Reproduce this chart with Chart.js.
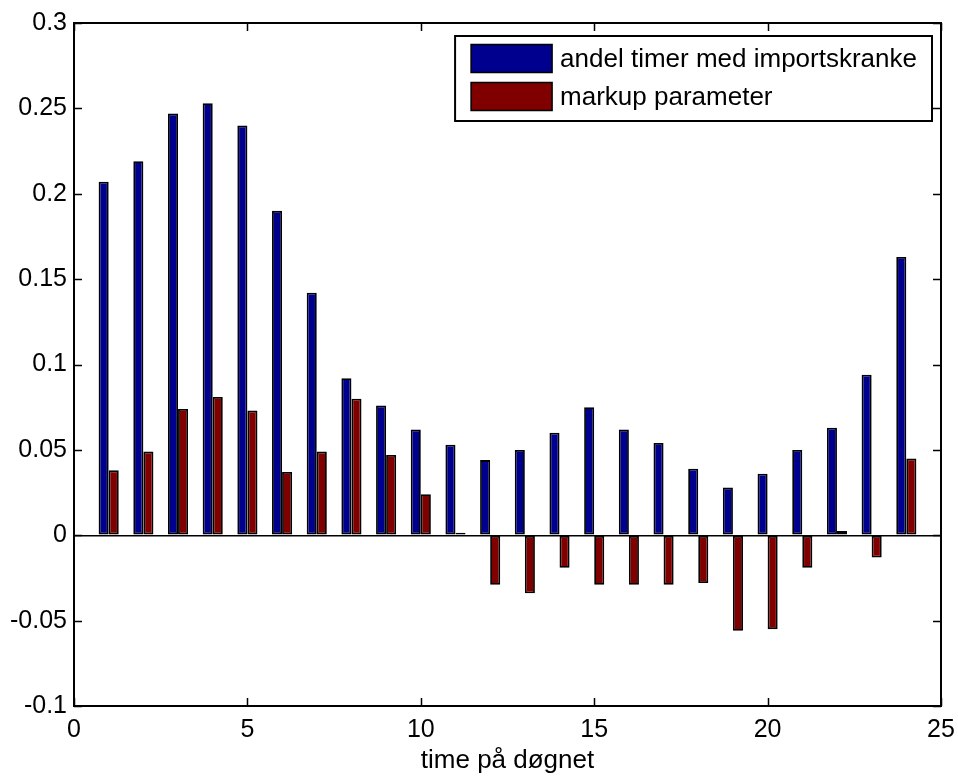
<!DOCTYPE html>
<html>
<head>
<meta charset="utf-8">
<script src="https://cdn.jsdelivr.net/npm/chart.js@4/dist/chart.umd.min.js"></script>
<style>
  html, body { margin: 0; padding: 0; background: #fff; }
  #c { display: block; }
</style>
</head>
<body>
<canvas id="c" width="958" height="777"></canvas>
<script>
// ---- data ----
const hours = [1,2,3,4,5,6,7,8,9,10,11,12,13,14,15,16,17,18,19,20,21,22,23,24];
const andelTimer = [0.207,0.219,0.247,0.253,0.240,0.190,0.142,0.092,0.076,0.062,0.053,0.044,
                    0.050,0.060,0.075,0.062,0.054,0.039,0.028,0.036,0.050,0.063,0.094,0.163];
const markup = [0.038,0.049,0.074,0.081,0.073,0.037,0.049,0.080,0.047,0.024,0.0015,-0.029,
                -0.034,-0.019,-0.029,-0.029,-0.029,-0.028,-0.056,-0.055,-0.019,0.0025,-0.013,0.045];
const seriesLabels = ['andel timer med importskranke', 'markup parameter'];
const xTicks = [0,5,10,15,20,25];
const yTicks = [-0.1,-0.05,0,0.05,0.1,0.15,0.2,0.25,0.3];
const xTitle = 'time på døgnet';

const FONT = '"Liberation Sans", Arial, Helvetica, sans-serif';
const BLUE = '#00008F';
const RED = '#800000';

const fmt = v => { const r = +(+v).toFixed(2); return (r === 0 ? 0 : r).toString(); };

// frame, inward tick marks (all four sides) and legend
const matlabAxes = {
  id: 'matlabAxes',
  afterDatasetsDraw(chart) {
    const {ctx, chartArea: a, scales: {x, y}} = chart;
    ctx.save();
    ctx.strokeStyle = '#000';
    ctx.lineWidth = 1.5;
    const tl = 8;
    ctx.beginPath();
    xTicks.forEach(v => {
      const px = Math.round(x.getPixelForValue(v)) + 0.5;
      ctx.moveTo(px, a.bottom); ctx.lineTo(px, a.bottom - tl);
      ctx.moveTo(px, a.top); ctx.lineTo(px, a.top + tl);
    });
    yTicks.forEach(v => {
      const py = Math.round(y.getPixelForValue(v)) + 0.5;
      ctx.moveTo(a.left, py); ctx.lineTo(a.left + tl, py);
      ctx.moveTo(a.right, py); ctx.lineTo(a.right - tl, py);
    });
    ctx.stroke();
    ctx.lineWidth = 2;
    ctx.strokeRect(a.left, a.top, a.right - a.left, a.bottom - a.top);
    ctx.restore();
  },
  afterDraw(chart) {
    const {ctx, chartArea: a} = chart;
    const ds = chart.data.datasets;
    ctx.save();
    ctx.font = '26px ' + FONT;
    const padL = 16, swW = 81, swH = 28, gap = 8, padR = 15, rowH = 38, padT = 8.5;
    let tw = 0;
    ds.forEach(d => { tw = Math.max(tw, ctx.measureText(d.label).width); });
    const w = padL + swW + gap + tw + padR;
    const h = 85;
    const right = a.right - 9, top = a.top + 13;
    const left = right - w;
    ctx.fillStyle = '#fff';
    ctx.fillRect(left, top, w, h);
    ctx.strokeStyle = '#000';
    ctx.lineWidth = 2;
    ctx.strokeRect(left, top, w, h);
    ds.forEach((d, i) => {
      const sy = top + padT + i * rowH;
      ctx.fillStyle = d.backgroundColor;
      ctx.fillRect(left + padL, sy, swW, swH);
      ctx.lineWidth = 1.5;
      ctx.strokeRect(left + padL, sy, swW, swH);
      ctx.fillStyle = '#000';
      ctx.textBaseline = 'middle';
      ctx.textAlign = 'left';
      ctx.fillText(d.label, left + padL + swW + gap, sy + swH / 2 + 1);
    });
    ctx.restore();
  }
};

new Chart(document.getElementById('c'), {
  type: 'bar',
  data: {
    datasets: [
      { label: seriesLabels[0], data: hours.map((h, i) => ({x: h, y: andelTimer[i]})),
        backgroundColor: BLUE, borderColor: '#000', borderWidth: 1.8, borderSkipped: false },
      { label: seriesLabels[1], data: hours.map((h, i) => ({x: h, y: markup[i]})),
        backgroundColor: RED, borderColor: '#000', borderWidth: 1.8, borderSkipped: false }
    ]
  },
  options: {
    responsive: false,
    animation: false,
    events: [],
    datasets: { bar: { categoryPercentage: 0.58, barPercentage: 1 } },
    layout: { padding: { top: 23, right: 17, left: 0, bottom: 0 } },
    plugins: { legend: { display: false }, tooltip: { enabled: false } },
    scales: {
      x: {
        type: 'linear', min: 0, max: 25, offset: false,
        afterBuildTicks: s => { s.ticks = xTicks.map(v => ({value: v})); },
        afterFit: s => { s.height = 71; s.paddingLeft = 0; s.paddingRight = 0; },
        grid: { display: false, drawTicks: false },
        border: { display: false },
        ticks: { color: '#000', font: { family: FONT, size: 25 }, padding: 9, maxRotation: 0,
                 callback: v => fmt(v) },
        title: { display: true, text: xTitle, color: '#000', font: { family: FONT, size: 26 },
                 padding: { top: 0, bottom: 1 } }
      },
      y: {
        min: -0.1, max: 0.3,
        afterBuildTicks: s => { s.ticks = yTicks.map(v => ({value: v})); },
        afterFit: s => { s.width = 74; s.paddingTop = 0; s.paddingBottom = 0; },
        grid: { drawTicks: false, lineWidth: 1.5,
                color: c => (c.tick && Math.abs(c.tick.value) < 1e-9) ? '#000' : 'rgba(0,0,0,0)' },
        border: { display: false },
        ticks: { color: '#000', font: { family: FONT, size: 25 }, padding: 7,
                 callback: v => fmt(v) }
      }
    }
  },
  plugins: [matlabAxes]
});
</script>
</body>
</html>
